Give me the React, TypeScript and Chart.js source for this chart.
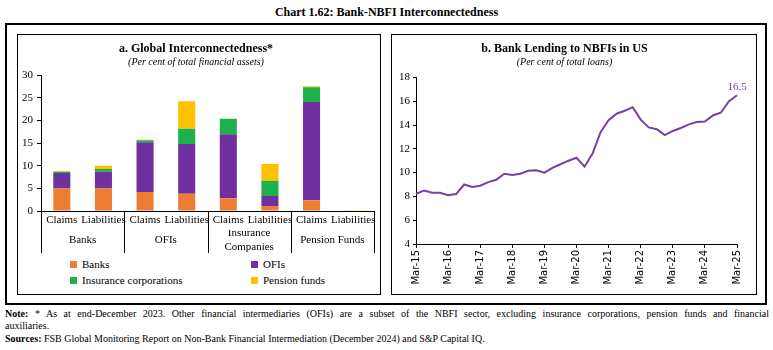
import React, { useEffect, useRef } from 'react';
import { Chart, registerables } from 'chart.js';

Chart.register(...registerables);

const SERIF = '"Liberation Serif", "DejaVu Serif", serif';
const SANS = '"DejaVu Sans", "Liberation Sans", sans-serif';

// ---- Panel a data ----
const barCategories = ['Claims', 'Liabilities', 'Claims', 'Liabilities', 'Claims', 'Liabilities', 'Claims', 'Liabilities'];
const groupLabels: (string | string[])[] = ['Banks', 'OFIs', ['Insurance', 'Companies'], 'Pension Funds'];
const seriesNames = ['Banks', 'OFIs', 'Insurance corporations', 'Pension funds'];
const seriesColors = ['#ED7D31', '#7030A0', '#1DB14B', '#FFC000'];
const banksValues = [5.0, 5.0, 4.2, 3.8, 2.8, 1.1, 2.4, 0];
const ofisValues = [3.4, 3.7, 11.0, 11.0, 14.2, 2.2, 21.7, 0];
const insuranceValues = [0.3, 0.6, 0.45, 3.4, 3.4, 3.4, 3.3, 0];
const pensionValues = [0.15, 0.7, 0.1, 6.1, 0, 3.7, 0.2, 0.15];
const barYTicks = { min: 0, max: 30, step: 5 };

// ---- Panel b data ----
const quarterLabels = [
  'Mar-15', 'Jun-15', 'Sep-15', 'Dec-15',
  'Mar-16', 'Jun-16', 'Sep-16', 'Dec-16',
  'Mar-17', 'Jun-17', 'Sep-17', 'Dec-17',
  'Mar-18', 'Jun-18', 'Sep-18', 'Dec-18',
  'Mar-19', 'Jun-19', 'Sep-19', 'Dec-19',
  'Mar-20', 'Jun-20', 'Sep-20', 'Dec-20',
  'Mar-21', 'Jun-21', 'Sep-21', 'Dec-21',
  'Mar-22', 'Jun-22', 'Sep-22', 'Dec-22',
  'Mar-23', 'Jun-23', 'Sep-23', 'Dec-23',
  'Mar-24', 'Jun-24', 'Sep-24', 'Dec-24',
  'Mar-25',
];
const lendingValues = [
  8.2, 8.5, 8.3, 8.3,
  8.1, 8.2, 9.0, 8.8,
  8.9, 9.2, 9.4, 9.9,
  9.8, 9.9, 10.15, 10.2,
  10.0, 10.4, 10.7, 11.0,
  11.25, 10.5, 11.6, 13.4,
  14.4, 14.95, 15.2, 15.5,
  14.45, 13.8, 13.65, 13.15,
  13.5, 13.75, 14.05, 14.25,
  14.3, 14.8, 15.05, 16.0,
  16.5,
];
const lineYTicks = { min: 4, max: 18, step: 2 };
const lineColor = '#7443A2';

const groupSeparatorPlugin = {
  id: 'groupSeparators',
  afterDraw(chart: any) {
    const x = chart.scales.x;
    const x2 = chart.scales.x2;
    const n = barCategories.length;
    const ctx = chart.ctx;
    ctx.save();
    ctx.strokeStyle = '#000';
    ctx.lineWidth = 1;
    for (let i = 0; i <= n; i += 2) {
      let px: number;
      if (i === 0) px = x.left;
      else if (i === n) px = x.right;
      else px = (x.getPixelForValue(i - 1) + x.getPixelForValue(i)) / 2;
      px = Math.round(px) + 0.5;
      ctx.beginPath();
      ctx.moveTo(px, x.top);
      ctx.lineTo(px, x2.bottom - 4);
      ctx.stroke();
    }
    ctx.restore();
  },
};

const lastLabelPlugin = {
  id: 'lastLabel',
  afterDatasetsDraw(chart: any) {
    const meta = chart.getDatasetMeta(0);
    const last = meta.data.length - 1;
    const pt = meta.data[last];
    const ctx = chart.ctx;
    ctx.save();
    ctx.fillStyle = lineColor;
    ctx.font = `11px ${SERIF}`;
    ctx.textAlign = 'center';
    ctx.textBaseline = 'middle';
    ctx.fillText(lendingValues[last].toFixed(1), pt.x, pt.y - 8);
    ctx.restore();
  },
};

function BarPanel() {
  const ref = useRef<HTMLCanvasElement>(null);
  useEffect(() => {
    const chart = new Chart(ref.current as HTMLCanvasElement, {
      type: 'bar',
      data: {
        labels: barCategories,
        datasets: [banksValues, ofisValues, insuranceValues, pensionValues].map((d, i) => ({
          label: seriesNames[i],
          data: d,
          backgroundColor: seriesColors[i],
          borderWidth: 0,
          barPercentage: 0.41,
          categoryPercentage: 1,
        })),
      },
      options: {
        responsive: false,
        animation: false,
        layout: { padding: { left: 0, right: 6, top: 0, bottom: 0 } },
        plugins: {
          legend: { display: false },
          tooltip: { enabled: false },
          title: {
            display: true,
            text: 'a. Global Interconnectedness*',
            color: '#000',
            font: { family: SERIF, size: 12, weight: 'bold' },
            padding: { top: 7, bottom: 0 },
          },
          subtitle: {
            display: true,
            text: '(Per cent of total financial assets)',
            color: '#000',
            font: { family: SERIF, size: 10, style: 'italic' },
            padding: { top: 0, bottom: 7 },
          },
        },
        scales: {
          x: {
            stacked: true,
            grid: { display: false, drawTicks: false, tickLength: 0 },
            border: { display: true, color: '#000', width: 1 },
            ticks: {
              autoSkip: false,
              maxRotation: 0,
              color: '#000',
              padding: 3,
              font: { family: SERIF, size: 11 },
            },
            afterFit: (s: any) => { s.height = 19; },
          },
          x2: {
            type: 'category',
            position: 'bottom',
            weight: 1,
            labels: groupLabels as any,
            offset: true,
            grid: { display: false, drawTicks: false, tickLength: 0 },
            border: { display: false },
            ticks: {
              autoSkip: false,
              maxRotation: 0,
              color: '#000',
              padding: 3,
              crossAlign: 'center',
              font: { family: SERIF, size: 11, lineHeight: 1.27 },
            },
            afterFit: (s: any) => { s.height = 27; },
          },
          y: {
            stacked: true,
            min: barYTicks.min,
            max: barYTicks.max,
            grid: { display: true, drawOnChartArea: false, drawTicks: true, tickLength: 4, color: '#000' },
            border: { display: true, color: '#000', width: 1 },
            ticks: {
              stepSize: barYTicks.step,
              color: '#000',
              padding: 4,
              font: { family: SERIF, size: 11 },
            },
            afterFit: (s: any) => { s.width = 23; },
          },
        },
      } as any,
      plugins: [groupSeparatorPlugin],
    });
    return () => chart.destroy();
  }, []);

  const legendItem = (i: number, left: number, top: number) => (
    <div key={i} style={{ position: 'absolute', left, top, height: 14, display: 'flex', alignItems: 'center', fontFamily: SERIF, fontSize: 11, color: '#000', whiteSpace: 'nowrap' }}>
      <span style={{ display: 'inline-block', width: 7, height: 7, background: seriesColors[i], marginRight: 5 }} />
      <span>{seriesNames[i]}</span>
    </div>
  );

  return (
    <div style={{ position: 'absolute', left: 17, top: 34, width: 364, height: 261, border: '1px solid #000', boxSizing: 'border-box' }}>
      <canvas ref={ref} width={362} height={222} style={{ display: 'block' }} />
      {legendItem(0, 52, 222)}
      {legendItem(1, 233, 222)}
      {legendItem(2, 52, 238)}
      {legendItem(3, 233, 238)}
    </div>
  );
}

function LinePanel() {
  const ref = useRef<HTMLCanvasElement>(null);
  useEffect(() => {
    const chart = new Chart(ref.current as HTMLCanvasElement, {
      type: 'line',
      data: {
        labels: quarterLabels,
        datasets: [
          {
            label: 'Bank lending to NBFIs',
            data: lendingValues,
            borderColor: lineColor,
            borderWidth: 2,
            pointRadius: 0,
            tension: 0,
            fill: false,
          },
        ],
      },
      options: {
        responsive: false,
        animation: false,
        layout: { padding: { left: 0, right: 19, top: 0, bottom: 0 } },
        plugins: {
          legend: { display: false },
          tooltip: { enabled: false },
          title: {
            display: true,
            text: 'b. Bank Lending to NBFIs in US',
            color: '#000',
            font: { family: SERIF, size: 12, weight: 'bold' },
            padding: { top: 7, bottom: 0 },
          },
          subtitle: {
            display: true,
            text: '(Per cent of total loans)',
            color: '#000',
            font: { family: SERIF, size: 10, style: 'italic' },
            padding: { top: 0, bottom: 9 },
          },
        },
        scales: {
          x: {
            grid: {
              display: true,
              drawOnChartArea: false,
              drawTicks: true,
              tickLength: 4,
              color: (c: any) => (c.index % 4 === 0 ? '#000' : 'rgba(0,0,0,0)'),
            },
            border: { display: true, color: '#000', width: 1 },
            ticks: {
              autoSkip: false,
              maxRotation: 90,
              minRotation: 90,
              padding: 2,
              color: '#000',
              font: { family: SANS, size: 10 },
              callback: (_v: any, i: number) => (i % 4 === 0 ? quarterLabels[i] : ''),
            },
            afterFit: (s: any) => { s.height = 50; },
          },
          y: {
            min: lineYTicks.min,
            max: lineYTicks.max,
            grid: { display: true, drawOnChartArea: false, drawTicks: true, tickLength: 3, color: '#000' },
            border: { display: true, color: '#000', width: 1 },
            ticks: {
              stepSize: lineYTicks.step,
              color: '#000',
              padding: 3,
              font: { family: SERIF, size: 11 },
            },
            afterFit: (s: any) => { s.width = 24; },
          },
        },
      } as any,
      plugins: [lastLabelPlugin],
    });
    return () => chart.destroy();
  }, []);

  return (
    <div style={{ position: 'absolute', left: 391, top: 34, width: 366, height: 261, border: '1px solid #000', boxSizing: 'border-box' }}>
      <canvas ref={ref} width={364} height={259} style={{ display: 'block' }} />
    </div>
  );
}

export default function App() {
  const noteStyle: React.CSSProperties = {
    position: 'absolute',
    left: 5,
    width: 764,
    fontFamily: SERIF,
    fontSize: 10,
    lineHeight: '12px',
    color: '#000',
    whiteSpace: 'nowrap',
  };
  return (
    <div style={{ position: 'absolute', left: 0, top: 0, width: 773, height: 350, background: '#fff', overflow: 'hidden' }}>
      <div style={{ position: 'absolute', left: 0, top: 4, width: 773, textAlign: 'center', fontFamily: SERIF, fontSize: 12, fontWeight: 'bold', lineHeight: '16px', color: '#000' }}>
        Chart 1.62: Bank-NBFI Interconnectedness
      </div>
      <div style={{ position: 'absolute', left: 5, top: 23, width: 762, height: 282, border: '2px solid #000', boxSizing: 'border-box' }} />
      <BarPanel />
      <LinePanel />
      <div style={{ ...noteStyle, top: 308, whiteSpace: 'normal', textAlign: 'justify', textAlignLast: 'justify' as any, height: 12, overflow: 'hidden' }}>
        <b>Note:</b> * As at end-December 2023. Other financial intermediaries (OFIs) are a subset of the NBFI sector, excluding insurance corporations, pension funds and financial
      </div>
      <div style={{ ...noteStyle, top: 320 }}>auxiliaries.</div>
      <div style={{ ...noteStyle, top: 333 }}>
        <b>Sources:</b> FSB Global Monitoring Report on Non-Bank Financial Intermediation (December 2024) and S&amp;P Capital IQ.
      </div>
    </div>
  );
}
